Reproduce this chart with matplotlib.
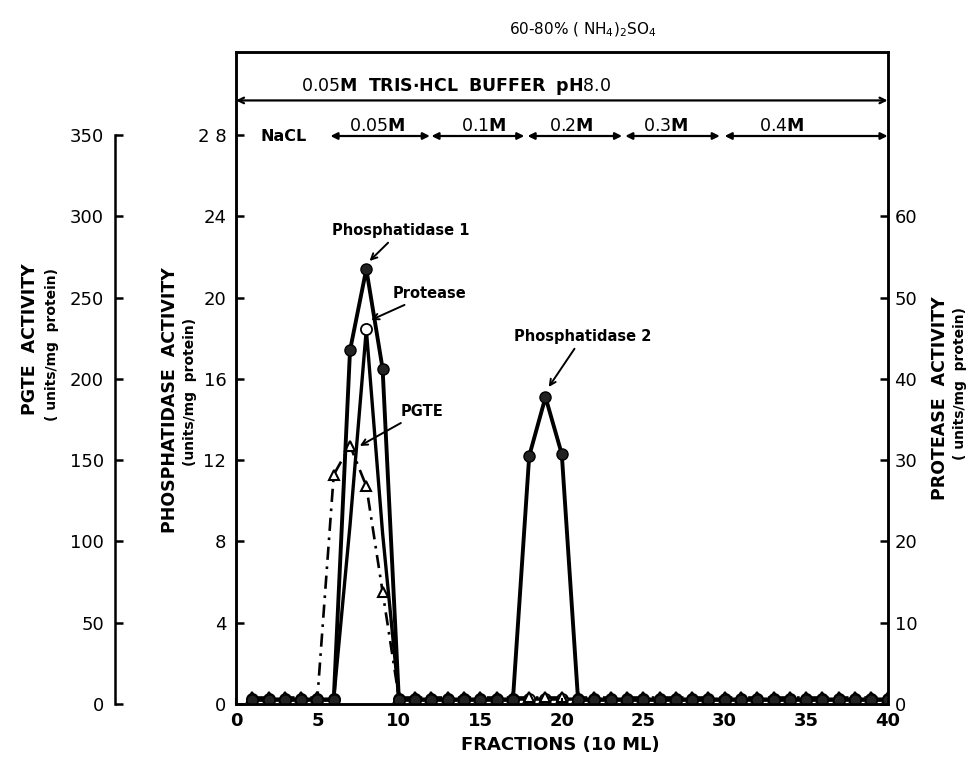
import matplotlib.pyplot as plt
import numpy as np

# fractions collected (10 ml each)
fractions = np.arange(1, 41)

# phosphatidase activity, units/mg protein (left inner axis)
phosphatidase = [0.2, 0.2, 0.2, 0.2, 0.2, 0.2, 17.4, 21.4, 16.5, 0.2,
                 0.2, 0.2, 0.2, 0.2, 0.2, 0.2, 0.2, 12.2, 15.1, 12.3,
                 0.2, 0.2, 0.2, 0.2, 0.2, 0.2, 0.2, 0.2, 0.2, 0.2,
                 0.2, 0.2, 0.2, 0.2, 0.2, 0.2, 0.2, 0.2, 0.2, 0.2]

# protease activity, units/mg protein (right axis)
protease = [0.6, 0.6, 0.6, 0.6, 0.6, 0.6, 22.0, 46.1, 21.0, 0.6,
            0.6, 0.6, 0.6, 0.6, 0.6, 0.6, 0.6, 0.6, 0.6, 0.6,
            0.6, 0.6, 0.6, 0.6, 0.6, 0.6, 0.6, 0.6, 0.6, 0.6,
            0.6, 0.6, 0.6, 0.6, 0.6, 0.6, 0.6, 0.6, 0.6, 0.6]

# PGTE activity, units/mg protein (left outer axis)
pgte = [4, 4, 4, 4, 4, 141, 159, 134, 69, 4,
        4, 4, 4, 4, 4, 4, 4, 4, 4, 4,
        4, 4, 4, 4, 4, 4, 4, 4, 4, 4,
        4, 4, 4, 4, 4, 4, 4, 4, 4, 4]

x_ticks = [0, 5, 10, 15, 20, 25, 30, 35, 40]
phos_ticks = [0, 4, 8, 12, 16, 20, 24, 28]
prot_ticks = [0, 10, 20, 30, 40, 50, 60]
pgte_ticks = [0, 50, 100, 150, 200, 250, 300, 350]

# NaCl step gradient (fraction ranges)
salt_labels = ["0.05", "0.1", "0.2", "0.3", "0.4"]
salt_ranges = [(5.8, 11.9), (12.0, 17.7), (17.9, 23.7), (23.9, 29.7), (30.0, 40.0)]
salt_label_x = [8.7, 15.2, 20.6, 26.4, 33.5]

narrow = ['Liberation Sans Narrow', 'DejaVu Sans']
plt.rcParams['font.family'] = narrow

fig = plt.figure(figsize=(9.66, 7.61), dpi=100)
ax = fig.add_axes([0.2443, 0.0749, 0.6745, 0.8572])
axr = ax.twinx()
axl = ax.twinx()

ax.set_zorder(3)
ax.patch.set_visible(False)

ax.set_xlim(0, 40)
ax.set_ylim(0, 32.1)
axr.set_ylim(0, 32.1 * 2.5)
axl.set_ylim(0, 32.1 * 12.5)

# PGTE - dash dot with open triangles
axl.plot(fractions, pgte, color='black', lw=1.9,
         linestyle=(0, (5, 2.5, 1, 2.5)), marker='^', ms=7,
         mfc='white', mec='black', mew=1.5)

# protease - open circles
mk = [i for i in range(len(fractions)) if fractions[i] not in (7, 9)]
axr.plot(fractions, protease, color='black', lw=2.4, marker='o', ms=8,
         mfc='white', mec='black', mew=1.3, markevery=mk)

# phosphatidase - filled circles
ax.plot(fractions, phosphatidase, color='black', lw=2.8, marker='o', ms=8,
        mfc='#222222', mec='black')

for a in (ax, axr, axl):
    for s in a.spines.values():
        s.set_linewidth(1.8)

ax.set_xticks(x_ticks)
ax.set_xticklabels([str(t) for t in x_ticks], fontweight='bold', fontsize=13)
ax.set_yticks(phos_ticks)
ax.set_yticklabels(["2 8" if t == 28 else str(t) for t in phos_ticks])
ax.tick_params(axis='y', direction='in', length=6, width=1.8, labelsize=13, pad=7)
ax.tick_params(axis='x', direction='in', length=4, width=1.5, pad=6)

axr.set_yticks(prot_ticks)
axr.tick_params(axis='y', direction='in', length=6, width=1.8, labelsize=13, pad=5)

axl.set_yticks(pgte_ticks)
axl.yaxis.set_ticks_position('left')
axl.spines['left'].set_position(('outward', 87))
axl.spines['left'].set_bounds(0, 350)
for side in ('right', 'top', 'bottom'):
    axl.spines[side].set_visible(False)
axl.tick_params(axis='y', direction='in', length=6, width=1.8, labelsize=13, pad=8)

bold = dict(fontweight='bold', family='DejaVu Sans')

# axis titles
fig.text(30 / 966, 1 - 339 / 761, "PGTE  ACTIVITY", rotation=90,
         ha='center', va='center', fontsize=12.5, **bold)
fig.text(52 / 966, 1 - 345 / 761, "( units/mg  protein)", rotation=90,
         ha='center', va='center', fontsize=10, **bold)
fig.text(170 / 966, 1 - 400 / 761, "PHOSPHATIDASE  ACTIVITY", rotation=90,
         ha='center', va='center', fontsize=12.5, **bold)
fig.text(190 / 966, 1 - 392 / 761, "(units/mg  protein)", rotation=90,
         ha='center', va='center', fontsize=10, **bold)
fig.text(940 / 966, 1 - 398 / 761, "PROTEASE  ACTIVITY", rotation=90,
         ha='center', va='center', fontsize=12.5, **bold)
fig.text(960 / 966, 1 - 384 / 761, "( units/mg  protein)", rotation=90,
         ha='center', va='center', fontsize=10, **bold)
fig.text(560 / 966, 1 - 745 / 761, "FRACTIONS (10 ML)", ha='center',
         va='center', fontsize=13, **bold)

fig.text(583 / 966, 1 - 30 / 761, r"60-80% ( NH$_4$)$_2$SO$_4$",
         ha='center', va='center', fontsize=11)

# buffer line
ax.annotate("", xy=(40, 29.7), xytext=(0, 29.7),
            arrowprops=dict(arrowstyle='<->', lw=1.6, color='black',
                            shrinkA=0, shrinkB=0))
ax.text(13.5, 29.85, r"0.05$\mathbf{M}$  $\mathbf{TRIS{\cdot}HCL}$  "
        r"$\mathbf{BUFFER}$  $\mathbf{pH}$8.0",
        ha='center', va='bottom', fontsize=12.5)

# salt steps
ax.text(2.9, 27.95, "NaCL", ha='center', va='center', fontsize=11.5, **bold)
for lab, (x0, x1), xl in zip(salt_labels, salt_ranges, salt_label_x):
    ax.annotate("", xy=(x1, 27.95), xytext=(x0, 27.95),
                arrowprops=dict(arrowstyle='<|-|>', lw=1.6, color='black',
                                shrinkA=0, shrinkB=0, mutation_scale=10))
    ax.text(xl, 28.0, lab + r"$\mathbf{M}$", ha='center', va='bottom',
            fontsize=12.5)

# peak labels
arrow = dict(arrowstyle='->', lw=1.4, color='black', shrinkA=2, shrinkB=0)
ax.annotate("Phosphatidase 1", xy=(8.2, 21.8), xytext=(10.1, 23.3),
            ha='center', va='center', fontsize=10.5, arrowprops=arrow, **bold)
ax.annotate("Protease", xy=(8.3, 18.9), xytext=(11.9, 20.2),
            ha='center', va='center', fontsize=10.5, arrowprops=arrow, **bold)
ax.annotate("PGTE", xy=(7.6, 12.7), xytext=(11.4, 14.4),
            ha='center', va='center', fontsize=10.5, arrowprops=arrow, **bold)
ax.annotate("Phosphatidase 2", xy=(19.2, 15.6), xytext=(21.3, 18.1),
            ha='center', va='center', fontsize=10.5, arrowprops=arrow, **bold)

fig.savefig("out.png", dpi=100)
